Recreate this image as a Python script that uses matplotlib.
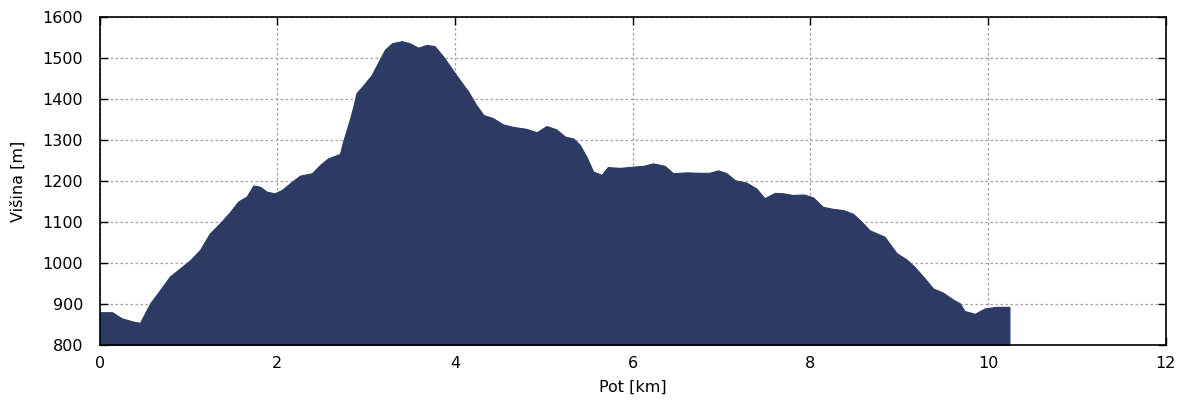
import matplotlib
matplotlib.use('Agg')
import matplotlib.pyplot as plt
from matplotlib.ticker import MultipleLocator

# razdalja [km] in visina [m], odcitano s profila
pot = [0.0, 0.14, 0.25, 0.38, 0.455, 0.49, 0.57, 0.68, 0.79, 0.905, 1.02, 1.13,
       1.24, 1.355, 1.47, 1.56, 1.655, 1.73, 1.805, 1.88, 1.97, 2.05, 2.14, 2.255,
       2.39, 2.48, 2.57, 2.705, 2.74, 2.78, 2.82, 2.855, 2.89, 2.97, 3.06, 3.14,
       3.21, 3.29, 3.40, 3.49, 3.585, 3.68, 3.77, 3.87, 3.96, 4.055, 4.15, 4.24,
       4.32, 4.43, 4.54, 4.655, 4.805, 4.92, 5.03, 5.14, 5.24, 5.33, 5.405, 5.48,
       5.555, 5.65, 5.72, 5.855, 6.005, 6.12, 6.23, 6.36, 6.455, 6.605, 6.755,
       6.865, 6.96, 7.055, 7.15, 7.28, 7.39, 7.485, 7.6, 7.69, 7.80, 7.93, 8.03,
       8.14, 8.255, 8.37, 8.48, 8.57, 8.665, 8.835, 8.97, 9.08, 9.17, 9.285, 9.38,
       9.49, 9.605, 9.68, 9.735, 9.85, 9.96, 10.09, 10.24]
visina = [880, 880, 865, 857, 854, 869, 902, 934, 967, 987, 1007, 1032,
          1072, 1097, 1125, 1150, 1162, 1189, 1186, 1174, 1170, 1178, 1194, 1213,
          1219, 1239, 1255, 1266, 1296, 1324, 1353, 1381, 1414, 1434, 1458, 1491,
          1520, 1536, 1541, 1536, 1525, 1532, 1529, 1503, 1475, 1446, 1418, 1385,
          1361, 1353, 1338, 1332, 1327, 1319, 1334, 1326, 1308, 1304, 1288, 1259,
          1223, 1215, 1234, 1232, 1235, 1237, 1243, 1237, 1219, 1221, 1220,
          1220, 1226, 1219, 1202, 1196, 1182, 1158, 1171, 1170, 1166, 1167, 1160,
          1137, 1132, 1129, 1120, 1102, 1080, 1064, 1024, 1009, 991, 963, 938,
          928, 911, 902, 883, 876, 889, 893, 893]

fig = plt.figure(figsize=(12, 4), dpi=100)
ax = fig.add_axes([0.083, 0.1375, 0.8885, 0.82])

ax.fill_between(pot, visina, 800, color='#2c3a64', linewidth=0.8,
                edgecolor='#2c3a64', zorder=2)

ax.set_xlim(0, 12)
ax.set_ylim(800, 1600)
ax.xaxis.set_major_locator(MultipleLocator(2))
ax.yaxis.set_major_locator(MultipleLocator(100))
ax.tick_params(direction='in', top=True, right=True, length=6, width=1,
               labelsize=11.5)
ax.tick_params(axis='y', pad=12)
ax.tick_params(axis='x', pad=8)
ax.set_axisbelow(True)
ax.grid(True, color='#a0a0a0', linestyle=(0, (2, 2)), linewidth=0.9)
for s in ax.spines.values():
    s.set_linewidth(1.2)

ax.set_xlabel('Pot [km]', fontsize=11.5, labelpad=6)
ax.set_ylabel('Višina [m]', fontsize=11.5, labelpad=12)

fig.savefig('out.png', dpi=100)
